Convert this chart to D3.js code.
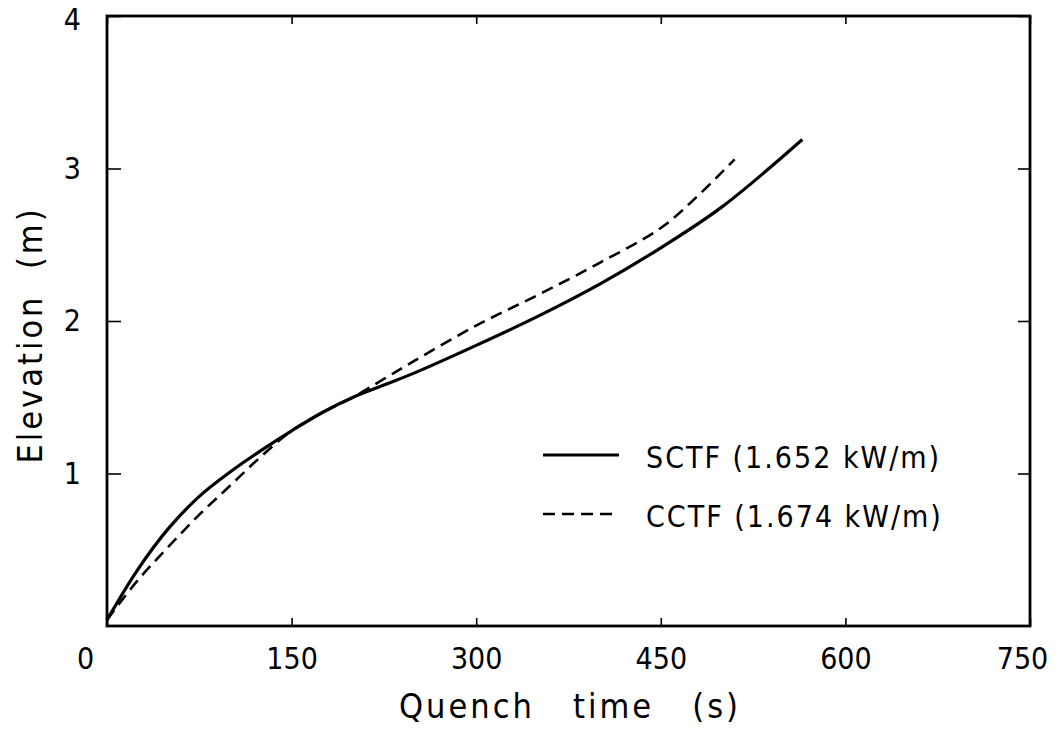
<!DOCTYPE html>
<html lang="en">
<head>
	<meta charset="UTF-8"/>
	<title>Quench front elevation</title>
	<script src="https://d3js.org/d3.v7.min.js"></script>
	<style>
		body { margin: 0; background: #fff; }
		svg text {
			font-family: "Liberation Sans Narrow", "DejaVu Sans Condensed", "Roboto", sans-serif;
			fill: #000;
		}
	</style>
</head>
<body>
	<script>

        var w = 1059;
        var h = 733;

        // plot frame in pixels
        var padLeft = 107, padRight = 1030, padTop = 16, padBottom = 626;

        // values (time in s, elevation in m)
        var sctfTime = [0, 25, 50, 75, 100, 125, 150, 175, 200, 225, 250, 300, 350, 400, 450, 500, 565];
        var sctfElev = [0.04, 0.37, 0.64, 0.85, 1.01, 1.15, 1.28, 1.40, 1.50, 1.58, 1.66, 1.84, 2.03, 2.24, 2.48, 2.75, 3.19];

        var cctfTime = [0, 25, 50, 75, 100, 125, 150, 175, 200, 225, 250, 300, 350, 400, 450, 480, 510];
        var cctfElev = [0.04, 0.30, 0.52, 0.73, 0.92, 1.11, 1.28, 1.40, 1.50, 1.62, 1.74, 1.97, 2.17, 2.38, 2.61, 2.82, 3.06];

        var xTicks = [0, 150, 300, 450, 600, 750];
        var yTicks = [1, 2, 3, 4];

        var series = [
            { name: "SCTF (1.652 kW/m)", t: sctfTime, e: sctfElev, dash: null, width: 3.2 },
            { name: "CCTF (1.674 kW/m)", t: cctfTime, e: cctfElev, dash: "12,7", width: 2.6 }
        ];

        var xScale = d3.scaleLinear()
                    .domain([0, 750])
                    .range([padLeft, padRight]);

        var yScale = d3.scaleLinear()
                    .domain([0, 4])
                    .range([padBottom, padTop]);

        var svg = d3.select("body")
                    .append("svg")
                    .attr("width", w)
                    .attr("height", h);

        // inward ticks on all four sides, labels only bottom and left
        var xAxis = d3.axisBottom(xScale)
                    .tickValues(xTicks)
                    .tickSize(-8)
                    .tickPadding(22)
                    .tickFormat(d3.format("d"));

        var yAxis = d3.axisLeft(yScale)
                    .tickValues(yTicks)
                    .tickSize(-14)
                    .tickPadding(26)
                    .tickFormat(d3.format("d"));

        var gx = svg.append("g")
            .attr("transform", "translate(0," + padBottom + ")")
            .call(xAxis);

        var gy = svg.append("g")
            .attr("transform", "translate(" + padLeft + ",0)")
            .call(yAxis);

        svg.append("g")
            .attr("transform", "translate(0," + padTop + ")")
            .call(d3.axisTop(xScale).tickValues(xTicks).tickSize(-8).tickFormat(""));

        svg.append("g")
            .attr("transform", "translate(" + padRight + ",0)")
            .call(d3.axisRight(yScale).tickValues(yTicks).tickSize(-12).tickFormat(""));

        svg.selectAll(".domain").remove();
        svg.selectAll(".tick line").attr("stroke", "#000").attr("stroke-width", 1.6);

        gx.selectAll("text")
            .attr("font-size", 30)
            .attr("dy", "0.71em")
            .attr("dx", function(d) { return d === 0 ? -22 : (d === 750 ? -8 : 0); });

        gy.selectAll("text")
            .attr("font-size", 30)
            .attr("dy", function(d) { return d === 4 ? "0.45em" : "0.32em"; });

        // frame
        svg.append("rect")
            .attr("x", padLeft)
            .attr("y", padTop)
            .attr("width", padRight - padLeft)
            .attr("height", padBottom - padTop)
            .attr("fill", "none")
            .attr("stroke", "#000")
            .attr("stroke-width", 2.8);

        var line = d3.line()
            .x(function(d) { return xScale(d[0]); })
            .y(function(d) { return yScale(d[1]); })
            .curve(d3.curveCatmullRom.alpha(0.5));

        series.forEach(function(s) {
            var pts = s.t.map(function(t, i) { return [t, s.e[i]]; });
            svg.append("path")
                .datum(pts)
                .attr("d", line)
                .attr("fill", "none")
                .attr("stroke", "#000")
                .attr("stroke-width", s.width)
                .attr("stroke-dasharray", s.dash);
        });

        // legend
        var legend = svg.append("g")
            .selectAll("g")
            .data(series)
            .enter()
            .append("g")
            .attr("transform", function(d, i) { return "translate(543," + (455 + i * 59) + ")"; });

        legend.append("line")
            .attr("x1", 0)
            .attr("x2", 76)
            .attr("stroke", "#000")
            .attr("stroke-width", function(d) { return d.width; })
            .attr("stroke-dasharray", function(d) { return d.dash; });

        legend.append("text")
            .attr("x", 103)
            .attr("y", 13)
            .attr("font-size", 30)
            .attr("letter-spacing", 2)
            .style("white-space", "pre")
            .text(function(d) { return d.name; });

        // axis titles
        svg.append("text")
            .attr("x", 570)
            .attr("y", 718)
            .attr("text-anchor", "middle")
            .attr("font-size", 34)
            .attr("letter-spacing", 3)
            .style("white-space", "pre")
            .text("Quench   time   (s)");

        svg.append("text")
            .attr("transform", "translate(42,335) rotate(-90)")
            .attr("text-anchor", "middle")
            .attr("font-size", 34)
            .attr("letter-spacing", 3)
            .style("white-space", "pre")
            .text("Elevation  (m)");

	</script>
</body>
</html>
